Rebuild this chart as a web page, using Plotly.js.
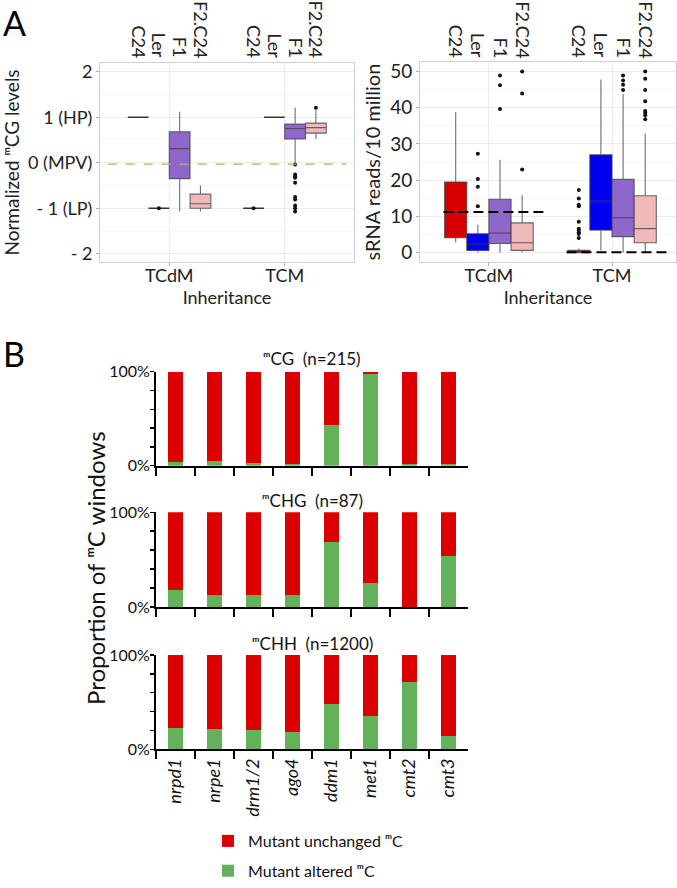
<!DOCTYPE html>
<html>
<head>
<meta charset="utf-8">
<script src="https://cdn.plot.ly/plotly-3.0.1.min.js"></script>
<style>html,body{margin:0;padding:0;background:#fff;}#chart{width:677px;height:888px;}</style>
</head>
<body>
<div id="chart"></div>
<script>
// ---------------- DATA ----------------
// Panel A
const groups = ['TCdM', 'TCM'];
const genotypes = ['C24', 'Ler', 'F1', 'F2.C24'];
const mcgTickVals = [-2, -1, 0, 1, 2];
const mcgTickText = ['- 2', '- 1 (LP)', '0 (MPV)', '1 (HP)', '2'];

// Normalized mCG levels: box stats per genotype, [TCdM, TCM]
const mcgQ1     = {C24: [1, -1], Ler: [-1, 1], F1: [-0.35, 0.52], 'F2.C24': [-1.0, 0.65]};
const mcgMedian = {C24: [1, -1], Ler: [-1, 1], F1: [0.31, 0.75],  'F2.C24': [-0.90, 0.77]};
const mcgQ3     = {C24: [1, -1], Ler: [-1, 1], F1: [0.68, 0.85],  'F2.C24': [-0.69, 0.87]};
const mcgLow    = {C24: [1, -1], Ler: [-1, 1], F1: [-1.07, 0.0],  'F2.C24': [-1.07, 0.52]};
const mcgHigh   = {C24: [1, -1], Ler: [-1, 1], F1: [1.12, 1.21],  'F2.C24': [-0.50, 1.15]};
const mcgOutliers = {
  C24: [[], [-1]],
  Ler: [[-1], []],
  F1: [[], [-0.04, -0.26, -0.30, -0.33, -0.44, -0.75, -0.81, -0.94, -1.0, -1.07]],
  'F2.C24': [[], [1.21]]
};
const mcgMPV = -0.03;

// sRNA reads / 10 million
const srnaQ1     = {C24: [4.1, 0],    Ler: [0.6, 6.2],  F1: [2.5, 4.4],   'F2.C24': [0.6, 2.7]};
const srnaMedian = {C24: [11.2, 0.1], Ler: [2.3, 14.2], F1: [5.4, 9.6],   'F2.C24': [2.7, 6.6]};
const srnaQ3     = {C24: [19.5, 0.6], Ler: [5.2, 27.0], F1: [14.7, 20.2], 'F2.C24': [8.2, 15.7]};
const srnaLow    = {C24: [2.8, 0],    Ler: [0, 0.6],    F1: [0, 0],       'F2.C24': [0, 0]};
const srnaHigh   = {C24: [38.8, 1.1], Ler: [7.7, 47.8], F1: [25.6, 43.8], 'F2.C24': [15.8, 32.8]};
const srnaOutliers = {
  C24: [[], [17.3, 14.9, 13.2, 12.8, 8.5, 6.6, 6.2, 5.6, 5.1, 4.0]],
  Ler: [[12.8, 18.2, 20.3, 27.3], []],
  F1: [[39.6, 46.2, 48.9], [48.9, 47.5, 46.3, 44.9]],
  'F2.C24': [[22.9, 43.9, 50.0], [50.0, 48.0, 44.9, 41.8, 39.1, 38.6, 37.9, 36.8]]
};
const srnaParentLine = [11.2, 0.1];

// Panel B
const mutants = ['nrpd1', 'nrpe1', 'drm1/2', 'ago4', 'ddm1', 'met1', 'cmt2', 'cmt3'];
const contexts = ['\u1D50CG  (n=215)', '\u1D50CHG  (n=87)', '\u1D50CHH  (n=1200)'];
const alteredCG   = [3.5, 4.6, 3.2, 1.8, 43.6, 97.5, 1.4, 1.8];
const unchangedCG = [96.5, 95.4, 96.8, 98.2, 56.4, 2.5, 98.6, 98.2];
const alteredCHG   = [18.3, 12.3, 12.3, 13.0, 68.7, 25.0, 0.5, 53.9];
const unchangedCHG = [81.7, 87.7, 87.7, 87.0, 31.3, 75.0, 99.5, 46.1];
const alteredCHH   = [23.0, 21.6, 20.8, 18.7, 48.0, 35.7, 71.0, 14.1];
const unchangedCHH = [77.0, 78.4, 79.2, 81.3, 52.0, 64.3, 29.0, 85.9];
const pctTickVals = [0, 100];
const pctTickText = ['0%', '100%'];
const pctMinorTicks = [20, 40, 60, 80];

// ---------------- STYLE ----------------
const W = 677, H = 888;
const FONT = 'Lato, "DejaVu Sans", sans-serif';
const colorsA = {C24: '#d70000', Ler: '#0000f0', F1: '#8e66cc', 'F2.C24': '#efb9b9'};
const boxWidth = 0.18;
const offsets = genotypes.map((g, k) => (k - 1.5) * boxWidth);
const px = p => p / W;
const py = p => 1 - p / H;

const traces = [];

function addBoxes(xa, ya, Q1, MED, Q3, LO, HI, OUT, leftPanel) {
  genotypes.forEach((g, k) => {
    const xs = groups.map((_, gi) => gi + offsets[k]);
    const flat = leftPanel && (g === 'C24' || g === 'Ler');
    traces.push({
      type: 'box', xaxis: xa, yaxis: ya, x: xs,
      q1: Q1[g], median: MED[g], q3: Q3[g], lowerfence: LO[g], upperfence: HI[g],
      width: boxWidth, whiskerwidth: 0, boxpoints: false,
      fillcolor: colorsA[g],
      line: {color: flat ? '#333' : 'rgba(60,60,60,0.75)', width: flat ? 1.6 : 1.1},
      showlegend: false, hoverinfo: 'skip'
    });
    const ox = [], oy = [];
    groups.forEach((_, gi) => OUT[g][gi].forEach(v => { ox.push(gi + offsets[k]); oy.push(v); }));
    if (ox.length) traces.push({
      type: 'scatter', mode: 'markers', xaxis: xa, yaxis: ya, x: ox, y: oy,
      marker: {color: '#111', size: 4}, showlegend: false, hoverinfo: 'skip', cliponaxis: false
    });
  });
}
addBoxes('x', 'y', mcgQ1, mcgMedian, mcgQ3, mcgLow, mcgHigh, mcgOutliers, true);
addBoxes('x2', 'y2', srnaQ1, srnaMedian, srnaQ3, srnaLow, srnaHigh, srnaOutliers, false);

// dashed parent lines on the sRNA panel
groups.forEach((_, gi) => {
  traces.push({
    type: 'scatter', mode: 'lines', xaxis: 'x2', yaxis: 'y2',
    x: [gi - 0.37, gi + 0.47], y: [srnaParentLine[gi], srnaParentLine[gi]],
    line: {color: '#000', width: 2, dash: '10px,5px'}, showlegend: false, hoverinfo: 'skip'
  });
});

// Panel B bars
const altered = [alteredCG, alteredCHG, alteredCHH];
const unchanged = [unchangedCG, unchangedCHG, unchangedCHH];
const bAxes = [['x3', 'y3'], ['x4', 'y4'], ['x5', 'y5']];
bAxes.forEach((ax, i) => {
  traces.push({
    type: 'bar', xaxis: ax[0], yaxis: ax[1], x: mutants, y: altered[i],
    name: 'Mutant altered \u1D50C', marker: {color: '#63b15a'},
    legendgroup: 'alt', legendrank: 2, showlegend: i === 2, hoverinfo: 'skip'
  });
  traces.push({
    type: 'bar', xaxis: ax[0], yaxis: ax[1], x: mutants, y: unchanged[i],
    name: 'Mutant unchanged \u1D50C', marker: {color: '#dd0000'},
    legendgroup: 'unch', legendrank: 1, showlegend: i === 2, hoverinfo: 'skip'
  });
});

// ---------------- LAYOUT ----------------
const boxX = (dom, range) => ({
  domain: dom, range: range, tickvals: [0, 1], ticktext: groups,
  tickfont: {size: 18, color: '#222'}, ticks: 'outside', ticklen: 3, tickcolor: '#aaa',
  ticklabelstandoff: -6,
  showline: true, mirror: true, linecolor: '#cfcfcf', linewidth: 1,
  showgrid: true, gridcolor: '#ececec', zeroline: false,
  title: {text: 'Inheritance', font: {size: 18, color: '#222'}, standoff: 0}
});
const barX = (anchor, labels) => ({
  domain: [px(156), px(468)], anchor: anchor, type: 'category', categoryorder: 'array', categoryarray: mutants,
  tickson: 'boundaries', ticks: 'outside', ticklen: 8, tickwidth: 2, tickcolor: '#000',
  showline: true, linewidth: 2, linecolor: '#000', showgrid: false, zeroline: false,
  showticklabels: labels, tickangle: -90,
  tickfont: {size: 18, style: 'italic', color: '#111'}
});
const barY = (anchor, top, bottom) => ({
  domain: [py(bottom), py(top)], anchor: anchor, range: [0, 100],
  tickvals: pctTickVals, ticktext: pctTickText, ticks: 'outside', ticklen: 4, tickwidth: 1.5, tickcolor: '#000',
  minor: {tickvals: pctMinorTicks, ticks: 'outside', ticklen: 4, tickwidth: 1.5, tickcolor: '#000', showgrid: false},
  ticklabelstandoff: -3,
  showline: true, linewidth: 2, linecolor: '#000', showgrid: false, zeroline: false,
  tickfont: {size: 16, color: '#111'}
});

const annotations = [];
// genotype labels above boxes
['x', 'x2'].forEach(xr => {
  groups.forEach((_, gi) => genotypes.forEach((g, k) => {
    annotations.push({
      xref: xr, yref: 'paper', x: gi + offsets[k], y: py(60), xanchor: 'center', yanchor: 'bottom',
      text: g, textangle: 90, showarrow: false, font: {size: 18, color: '#222'}
    });
  }));
});
// panel letters
annotations.push({xref: 'paper', yref: 'paper', x: px(1), y: py(0), xanchor: 'left', yanchor: 'top',
  text: 'A', showarrow: false, font: {size: 34, color: '#000'}});
annotations.push({xref: 'paper', yref: 'paper', x: px(1), y: py(331), xanchor: 'left', yanchor: 'top',
  text: 'B', showarrow: false, font: {size: 34, color: '#000'}});
// B subplot titles
const titleY = [358, 500, 643];
contexts.forEach((t, i) => annotations.push({
  xref: 'paper', yref: 'paper', x: px(312), y: py(titleY[i]), xanchor: 'center', yanchor: 'middle',
  text: t, showarrow: false, font: {size: 17, color: '#111'}
}));
// B shared y title
annotations.push({xref: 'paper', yref: 'paper', x: px(95), y: py(568), xanchor: 'center', yanchor: 'middle',
  text: 'Proportion of \u1D50C windows', textangle: -90, showarrow: false, font: {size: 24, color: '#111'}});

const layout = {
  width: W, height: H, autosize: false,
  margin: {l: 0, r: 0, t: 0, b: 0},
  paper_bgcolor: '#fff', plot_bgcolor: '#fff',
  font: {family: FONT, color: '#222'},
  boxmode: 'overlay', barmode: 'stack', bargap: 0.6,
  showlegend: true,
  legend: {x: px(208), y: py(824), xanchor: 'left', yanchor: 'top', traceorder: 'grouped',
    tracegroupgap: 6, font: {size: 16, color: '#111'}, bgcolor: 'rgba(0,0,0,0)'},
  xaxis: Object.assign(boxX([px(100), px(354)], [-0.6, 1.6]), {anchor: 'y'}),
  yaxis: {
    domain: [py(262), py(63)], anchor: 'x', range: [-2.18, 2.19],
    tickvals: mcgTickVals, ticktext: mcgTickText, tickfont: {size: 18, color: '#222'},
    ticks: 'outside', ticklen: 3, tickcolor: '#aaa',
    showline: true, mirror: true, linecolor: '#cfcfcf', linewidth: 1,
    gridcolor: '#ececec', zeroline: false,
    minor: {dtick: 0.5, showgrid: true, gridcolor: '#f6f6f6'},
    title: {text: 'Normalized \u1D50CG levels', font: {size: 19, color: '#222'}, standoff: 8}
  },
  xaxis2: Object.assign(boxX([px(420), px(676)], [-0.56, 1.52]), {anchor: 'y2'}),
  yaxis2: {
    domain: [py(262), py(62)], anchor: 'x2', range: [-2.6, 52.6],
    tickvals: [0, 10, 20, 30, 40, 50], tickfont: {size: 19, color: '#222'},
    ticks: 'outside', ticklen: 3, tickcolor: '#aaa',
    showline: true, mirror: true, linecolor: '#cfcfcf', linewidth: 1,
    gridcolor: '#ececec', zeroline: false,
    minor: {dtick: 5, showgrid: true, gridcolor: '#f6f6f6'},
    title: {text: 'sRNA reads/10 million', font: {size: 20, color: '#222'}, standoff: 4}
  },
  xaxis3: barX('y3', false), yaxis3: barY('x3', 371.7, 465.7),
  xaxis4: barX('y4', false), yaxis4: barY('x4', 512.3, 607),
  xaxis5: barX('y5', true),  yaxis5: barY('x5', 655, 749.3),
  shapes: [{
    type: 'line', xref: 'x domain', yref: 'y', x0: 0.03, x1: 0.97, y0: mcgMPV, y1: mcgMPV,
    line: {color: '#9cc04a', width: 1.3, dash: 'dash'}
  }],
  annotations: annotations
};

Plotly.newPlot('chart', traces, layout, {staticPlot: true, displayModeBar: false});
</script>
</body>
</html>
